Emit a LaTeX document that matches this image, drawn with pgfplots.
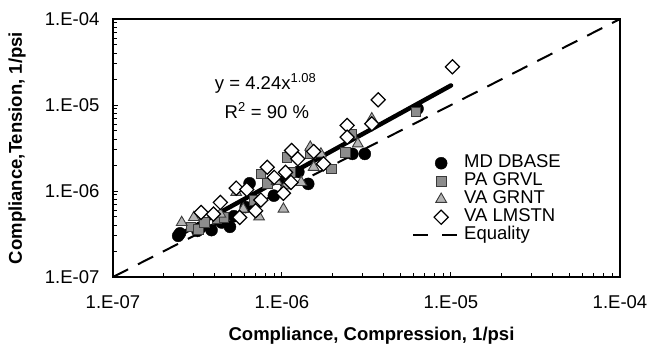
\documentclass[border=0pt]{standalone}
\usepackage{pgfplots}
\pgfplotsset{compat=1.18}
\usepackage{fontspec}
\setmainfont{Liberation Sans}
\newcommand\F{\fontsize{18.5}{22}\selectfont}
\definecolor{sqfill}{HTML}{8C8C8C}
\definecolor{trfill}{HTML}{B4B4B4}
\definecolor{edge}{HTML}{3A3A3A}
\pgfplotsset{mklegend/.style={legend image code/.code={\draw[mark repeat=2,mark phase=2,##1] plot coordinates {(0pt,0pt) (28pt,0pt) (44pt,0pt)};}}}
\begin{document}
\begin{tikzpicture}
\begin{axis}[name=ax, xmode=log, ymode=log, scale only axis, width=507pt, height=258pt,
  xmin=1e-7, xmax=1e-4, ymin=1e-7, ymax=1e-4,
  xtick={1e-7,1e-6,1e-5,1e-4}, xticklabels={1.E-07,1.E-06,1.E-05,1.E-04},
  ytick={1e-7,1e-6,1e-5,1e-4}, yticklabels={1.E-07,1.E-06,1.E-05,1.E-04},
  tick pos=left, tick align=inside, major tick length=5pt, minor tick length=4pt,
  axis line style={line width=1.3pt}, every tick/.style={line width=1pt, black},
  every tick label/.append style={font=\F},
  xticklabel style={yshift=-15pt}, yticklabel style={xshift=-10pt},
  xlabel={Compliance, Compression, 1/psi}, ylabel={Compliance,Tension, 1/psi},
  xlabel style={font=\F\bfseries, at={(axis description cs:0.5099,-0.1822)}, anchor=north},
  ylabel style={font=\F\bfseries, at={(axis description cs:-0.1893,0.5)}, anchor=center},
  legend style={at={(axis description cs:0.5897,0.4767)}, anchor=north west, draw=none, fill=none,
    font=\F, inner sep=0pt, row sep=0pt, column sep=0pt,
    nodes={inner ysep=0pt, inner xsep=6pt, text height=13.5pt, text depth=4.5pt}},
  legend cell align=left,
  clip=false,
]
\addplot[only marks, mark=*, mark size=6pt, mark options={fill=black, draw=black}, mklegend]
  coordinates {
  (2.43e-7,3.01e-7) (2.49e-7,3.22e-7) (3.16e-7,3.44e-7) (3.30e-7,3.75e-7) (3.83e-7,3.51e-7)
  (4.40e-7,4.30e-7) (4.92e-7,3.83e-7) (5.20e-7,5.10e-7) (6.43e-7,1.23e-6) (6.10e-7,6.50e-7)
  (7.20e-7,7.60e-7) (8.95e-7,8.83e-7) (1.05e-6,1.25e-6) (1.25e-6,1.67e-6) (1.43e-6,1.21e-6)
  (2.61e-6,2.70e-6) (3.09e-6,2.70e-6) (6.34e-6,9.06e-6)};
\addlegendentry{MD DBASE}
\addplot[only marks, mark=square*, mark size=4.8pt, mark options={fill=sqfill, draw=edge, line width=0.9pt}, mklegend]
  coordinates {
  (2.90e-7,3.83e-7) (3.20e-7,3.60e-7) (3.48e-7,4.31e-7) (4.12e-7,4.71e-7) (4.53e-7,4.93e-7)
  (6.81e-7,7.71e-7) (7.50e-7,1.58e-6) (8.18e-7,1.23e-6) (1.07e-6,2.47e-6) (1.13e-6,1.65e-6)
  (1.47e-6,2.74e-6) (1.96e-6,1.81e-6) (2.37e-6,2.83e-6) (2.59e-6,4.63e-6) (6.19e-6,8.28e-6)};
\addlegendentry{PA GRVL}
\addplot[only marks, mark=triangle*, mark size=6.2pt, mark options={fill=trfill, draw=edge, line width=0.9pt}, mklegend]
  coordinates {
  (2.55e-7,4.31e-7) (3.01e-7,4.93e-7) (4.32e-7,5.39e-7) (5.36e-7,9.65e-7) (5.90e-7,6.17e-7)
  (7.32e-7,5.01e-7) (9.30e-7,1.30e-6) (1.02e-6,6.17e-7) (1.05e-6,1.15e-6) (1.30e-6,1.26e-6)
  (1.47e-6,3.24e-6) (1.54e-6,1.89e-6) (1.70e-6,2.70e-6) (2.81e-6,3.54e-6) (3.40e-6,6.92e-6)};
\addlegendentry{VA GRNT}
\addplot[only marks, mark=square*, mark size=5pt, mark options={rotate=45, fill=white, draw=black, line width=1.2pt}, mklegend]
  coordinates {
  (3.32e-7,5.63e-7) (3.93e-7,5.39e-7) (4.32e-7,7.37e-7) (5.36e-7,1.08e-6) (6.19e-7,1.04e-6)
  (5.62e-7,4.93e-7) (6.98e-7,5.89e-7) (7.50e-7,7.85e-7) (8.18e-7,1.89e-6) (8.99e-7,1.44e-6)
  (1.02e-6,9.40e-7) (1.05e-6,1.65e-6) (1.13e-6,1.26e-6) (1.14e-6,2.96e-6) (1.24e-6,2.37e-6)
  (1.54e-6,2.88e-6) (1.76e-6,2.07e-6) (2.43e-6,5.79e-6) (2.43e-6,4.23e-6) (3.40e-6,6.05e-6)
  (3.71e-6,1.15e-5) (1.02e-5,2.78e-5)};
\addlegendentry{VA LMSTN}
\addplot[black, line width=2pt, dash pattern=on 17pt off 11pt,
  legend image code/.code={\draw[black, line width=2pt, dash pattern=on 15pt off 14pt] (0pt,0pt) -- (44pt,0pt);}]
  coordinates {(1e-7,1e-7) (1e-4,1e-4)};
\addlegendentry{Equality}
\addplot[black, line width=4.5pt, line cap=round, forget plot]
  coordinates {(2.45e-7,3.07e-7) (1e-5,1.688e-5)};
\node[anchor=base west, font=\F, inner sep=0pt] at (axis description cs:0.2008,0.7287) {y = 4.24x\textsuperscript{1.08}};
\node[anchor=base west, font=\F, inner sep=0pt] at (axis description cs:0.2200,0.6163) {R\textsuperscript{2} = 90 \%};
\end{axis}
\pgfresetboundingbox
\path ([shift={(-113pt,-71pt)}]ax.south west) rectangle ([shift={(30pt,19pt)}]ax.north east);
\end{tikzpicture}
\end{document}
